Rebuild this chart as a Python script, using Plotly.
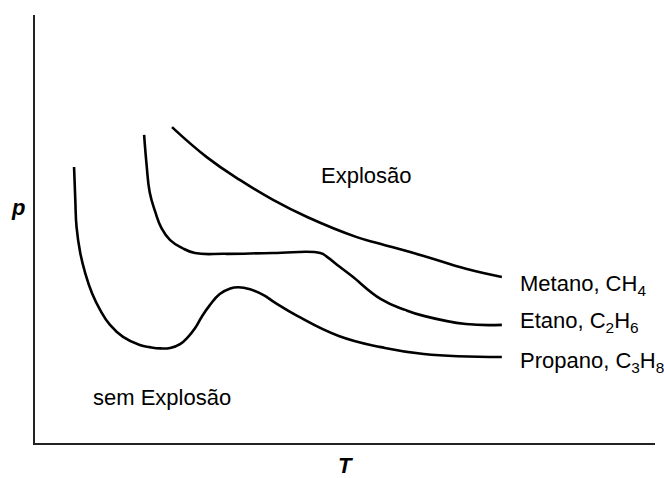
import plotly.graph_objects as go

# Data (arbitrary units, T and p from 0 to 100)
metano_T = [22.1, 27.7, 33.1, 38.4, 43.9, 51.9, 55.8, 62.7, 69.5, 75.3]
metano_p = [73.8, 66.8, 61.4, 56.8, 52.8, 48.1, 46.5, 43.7, 40.7, 38.8]

etano_T = [17.6, 18.0, 18.5, 19.4, 20.4, 21.8, 23.7, 25.8, 30.6, 38.4, 46.0, 47.1, 49.2, 51.1, 55.8, 59.7, 62.7, 69.5, 75.3]
etano_p = [72.0, 65.0, 58.6, 54.0, 50.2, 47.4, 45.6, 44.4, 44.2, 44.4, 44.4, 43.5, 41.1, 39.0, 33.6, 31.1, 29.7, 27.8, 27.6]

propano_T = [6.3, 6.5, 6.7, 7.3, 8.1, 9.2, 10.5, 12.1, 14.2, 16.9, 18.5, 20.2, 21.8, 23.4, 24.7, 25.8, 26.9,
             28.2, 29.8, 31.5, 32.8, 34.7, 36.8, 38.7, 42.3, 49.0, 55.8, 62.7, 75.3]
propano_p = [64.5, 56.8, 50.5, 44.4, 39.7, 35.0, 31.1, 27.6, 24.8, 22.9, 22.4, 22.1, 22.2, 23.1, 24.8, 26.8, 29.5,
             32.2, 34.8, 36.1, 36.4, 35.9, 34.6, 32.8, 29.7, 25.0, 22.4, 20.8, 20.1]

series_names = ["Metano, CH<sub>4</sub>", "Etano, C<sub>2</sub>H<sub>6</sub>", "Propano, C<sub>3</sub>H<sub>8</sub>"]
label_p = [37.0, 28.2, 18.9]
label_T = 77.9

FONT = "Liberation Sans, Arial, sans-serif"
FS = 22

fig = go.Figure()
for T, p in [(metano_T, metano_p), (etano_T, etano_p), (propano_T, propano_p)]:
    fig.add_trace(go.Scatter(x=T, y=p, mode="lines",
                             line=dict(color="black", width=2.6, shape="spline", smoothing=1.3),
                             showlegend=False, hoverinfo="skip"))

for name, yp in zip(series_names, label_p):
    fig.add_annotation(x=label_T, y=yp, text=name, showarrow=False, xanchor="left", yanchor="middle",
                       font=dict(family=FONT, size=FS, color="black"))

fig.add_annotation(x=53.4, y=62.5, text="Explosão", showarrow=False,
                   xanchor="center", yanchor="middle",
                   font=dict(family=FONT, size=FS, color="black"))
fig.add_annotation(x=20.5, y=10.65, text="sem Explosão", showarrow=False,
                   xanchor="center", yanchor="middle",
                   font=dict(family=FONT, size=FS, color="black"))

fig.add_annotation(xref="paper", yref="paper", x=-0.0274, y=0.551, text="<b><i>p</i></b>",
                   showarrow=False, xanchor="center", yanchor="middle",
                   font=dict(family=FONT, size=FS, color="black"))
fig.add_annotation(xref="paper", yref="paper", x=0.5, y=-0.053, text="<b><i>T</i></b>",
                   showarrow=False, xanchor="center", yanchor="middle",
                   font=dict(family=FONT, size=FS, color="black"))

fig.update_xaxes(range=[0, 100], showline=True, linecolor="#222", linewidth=1.6,
                 showgrid=False, zeroline=False, showticklabels=False, ticks="")
fig.update_yaxes(range=[0, 100], showline=True, linecolor="#222", linewidth=1.6,
                 showgrid=False, zeroline=False, showticklabels=False, ticks="")

fig.update_layout(width=664, height=478, margin=dict(l=35, r=9, t=15, b=35),
                  plot_bgcolor="white", paper_bgcolor="white")

fig.write_html("out.html", config={"displayModeBar": False},
               post_script="document.body.style.margin='0px';document.body.style.overflow='hidden';")
